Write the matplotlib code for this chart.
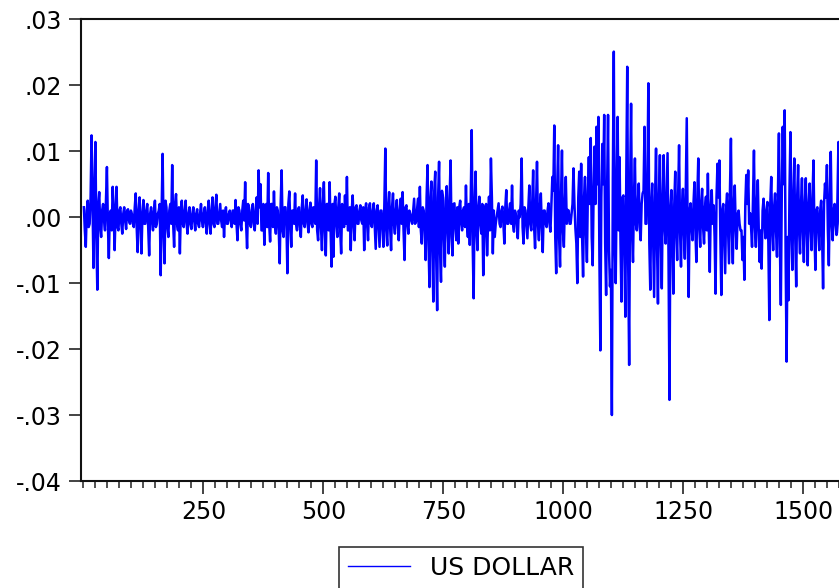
import numpy as np
import matplotlib
matplotlib.use('Agg')
import matplotlib.pyplot as plt
from matplotlib.ticker import MultipleLocator, FixedLocator, FuncFormatter

plt.rcParams['font.family'] = ['DejaVu Sans']

# daily returns, in thousandths.
# segN: peaks/troughs every 4 observations, midN: the band in between (offset by 2)
seg1 = [1.5, -4.5, 2.5, -1, 12.4, -7.7, 11.4, -11, 3.8, -3, 2, -2, 7.6, -6.2, 1,
        4.6, -5, 4.6, -2, 1.5, -2.5, 1.5, -1.8, 1.2, -1, 0.5, -1.5, 3.6, -5.3, 3,
        -5.5, 2.6, -1, 2, -5.8, 1.5, -2, 2.5, -1, 1, -8.8, 9.6, -7, 1.5, -3, 2,
        7.9, -4.5, 3.5, -2, -5.5, 2.5, -1.5, 2.5, -2.5, 1.5, -1.8, 1.5, -2, 1.2,
        -1.5, 2, -1.5, 1.5, -2.5]
mid1 = [-2, 1, -1.5, 3, 2, 4, -3, 2, -1.5, 1, -0.5, 2.5, -1, 0.5, -2, 1, 0.5,
        -1.5, 1, -1, 0.5, -0.5, 1, -0.5, 1, -1, 1.5, -1.5, 1, -1, 0.5, -1, 1,
        -1.5, 0.5, -0.5, 1, -1.5, 0.5, 2, 1, -2, 2.5, -1.5, 1, -1, -1, 2, -1,
        1.5, 1, -1, 1, -1, 0.5, -1, 0.5, -0.5, 0.5, -1, 0.5, -0.5, 0.5, -1, 1]
seg2 = [2.5, -2.5, 3, -1.5, 3.4, -1, 2, -1.5, -3, 1.5, -1, 1, -1.5, 1, 2.6,
        -3.5, 1, -2, 2.5, 5.3, -4.7, 1.5, -1.5, 2, -2, 3, 7.1, 5, -2, -4.2, 2,
        6.7, -3.7, 2, 3.9, -2.5, 1, -7, 7.1, -3, 1.5, -8.5, 3.9, -4.5, 1, 3.6,
        -2, 1.5, -3, 3.3, -1.5, 2.7, -2.3, 2.2, -1.5, 1, 8.6, -3.5, 4.4, -5,
        5.3, -5.8, 2, 5.3, -7.5]
mid2 = [-1, 1, -1, 1.5, -1, 0.5, -0.5, 1, 0.5, -1, 0.5, -0.5, 1, -1, -1, 1.5,
        -1, 1, -0.5, -1, 2, -1, 1, -1, 1, -1, 1.5, -2, 2, 1, -1.5, -1, 2, -1.5,
        -1, 1.5, -2, 2, -2, 1.5, -1, 2, -1, 1, -1, -1, 1, -1.5, 1.5, -1, 1, -1,
        1, -1, 1.5, -1, -2, 1.5, -1.5, 2, -2, 2, -2, -2, 2]
seg3 = [-6, 3.1, -3, 3.6, -5.5, 1, 3.3, 6.1, -2, -5, 3.3, -3.5, 1.8, -1, 1.8,
        -1, -5, 2.1, -3.5, 2.1, -1.5, 2.1, -4.8, 1.8, -4.5, 1, -4.5, 10.4, -4.3,
        3.8, -5, 3.6, -2.5, 2.6, -3.5, 2.8, 3.8, -6.5, 1.8, -2.5, 0.5, -1, 2.8,
        -0.7, 2.8, 4.6, -4, 1, -6.5, 7.9, -10.6, 5.4, -12.8, 6.9, -14.1, 8.4,
        -9.8, 3, -7.5, 4.7, -5.5, 8.6, -5.8, 2.1, -3.5]
mid3 = [2, -1, 1.5, -2, 2, -1.5, -1, -2, 1.5, 1, -1, 1.5, -1, 1, -0.5, 1.5, 1,
        -1, 1.5, -1, 1, -1.5, 1, -1.5, 1, -1.5, 2, -2, 1.5, -1.5, 1.5, -1, 1,
        -1, 1, -1, -2, 1.5, -1, 1, -0.5, 1, -1, 1, -1.5, -2, 1.5, -2, 3, -4, 3,
        -5, 4, -6, 3, -5, 4, -3, 2.5, -2, 3, -3, 2, -1.5, 1.5]
seg4 = [-4, 2.5, -2, 1.5, 4.8, -3, -4.2, 13.2, -12.3, 6.9, -5, 3.1, -2.5, -8.8,
        1.6, -5.8, 3.1, 8.9, -5.5, -3, 0, 2.1, -1.5, 1.6, -4, 4.1, -1, 2.1, 4.8,
        -2.2, 0.5, -3.2, 0, 8.9, -4, 1, -3.2, 4.8, -2, 7.1, -4.7, 8.4, -3.5,
        3.6, -5.3, 1, -1.5, 2.1, -2.2, 6.1, 13.9, -8.5, 10.9, -7.5, 10.1, -4.5,
        6.1, 1.1, -1, 0.5, 7.4, -1.7, -10, 6.9, 8.1]
mid4 = [1.5, -1, 1, -1.5, -1, 2, 3, -4, 2, -2, 1.5, -1, 2, -3, 2, -1, -2, 3, 1,
        -1, 1, -1, 1, -1, 1.5, -1, 1, -1, -1, 1, -1, 1, 2, -1.5, 1.5, -1, 1.5,
        -1, 2, -1.5, 2, -1, 1.5, -1.5, 1, -1, 1, -1, 2, 4, -3, 4, -3, 3, -2, 2,
        -1, 1, -1, 2, 2, -4, 3, -3, -3]
seg5 = [-9, 6.1, -6.8, 9.1, 12, -7.3, 10.7, 13.7, 15.2, -20.2, 11.1, 15.5,
        -11.8, 15.5, -10.5, -30, 25.1, -10, 15.2, 9.1, -12.8, 3.3, -15.1, 22.8,
        -22.4, 17.2, -6.8, 8.9, -2, 5.1, -3.5, 3.6, 13.7, -1, 20.3, -11, 5.1,
        -12.1, 10.4, -13.1, 9.4, -10.8, 9.4, -4, 9.7, -27.7, 4.1, -11.6, 6.9,
        -6.5, 10.9, -7.5, 4.3, -6.3, 15, -12.1, 2.1, -3.5, 5.3, -6.8, 8.9, -4.5,
        4.3, -4, 3.1]
mid5 = [3, -2, 4, 2, -3, 4, 2, 5, -6, 3, 5, -4, 4, -5, -8, 6, -4, 5, -2, -4, 3,
        -5, 6, -7, 5, -2, 3, -1, 2, -1.5, 2, 4, -1, 5, -4, 2, -4, 3, -4, 3, -3,
        3, -1.5, 3, -6, 1.5, -3, 2, -2, 3, -2, 1.5, -2, 4, -3, 1, -1.5, 2, -2,
        3, -1.5, 2, -1.5, 1.5, -2]
seg6 = [6.6, -8.3, 4.1, 1.8, -11.6, 8.1, 8.6, -11.8, 2, -8.5, 3.6, -7, 11.9,
        -7, 4.8, -4.8, 1, -2, -6.5, -9.5, 6.4, 7.1, 0.6, -4.5, 10.1, -4.5, 5.6,
        -6.8, -7.8, 2.8, -3.2, 2.3, -15.6, 6.1, -5, 3.6, -6, 12.7, -13.3, 13.7,
        16.2, -21.9, -12.6, 12.9, -8, 8.9, -10.5, 7.9, -5.5, 5.9, -6.8, 5.9,
        -7.3, 5.1, -5, 8.6, -8, 1.5, -5, 2.5, -10.8, 5.1, 7.9, -7.3, 9.9, -3.5,
        2, -2.7, 11.4, -3, 4]
mid6 = [-2, 1.5, -1, -3, 3, 3, -3, 1, -3, 1.5, -2, 4, -2, 2, -1.5, 0.5, -1, -2,
        -3, 2, 2, -1, -1.5, 3, -1.5, 2, -2, -2, 1, -1, 1, -4, 2, -1.5, 1.5, -2,
        4, -4, 4, 5, -6, -3, 4, -2.5, 3, -3, 3, -2, 2, -2, 2, -2, 2, -1.5, 3,
        -2.5, 1, -1.5, 1, -3, 2, 3, -2, 3, -1, 1, -1, 3, -1, 1.5]
seg_starts = [1, 261, 521, 781, 1041, 1301]
step = 4
x_major = [250, 500, 750, 1000, 1250, 1500]

obs_list, val_list = [], []
for start, pk, md in zip(seg_starts, [seg1, seg2, seg3, seg4, seg5, seg6],
                         [mid1, mid2, mid3, mid4, mid5, mid6]):
    obs_list += [start + step * np.arange(len(pk)), start + step // 2 + step * np.arange(len(md))]
    val_list += [np.array(pk), np.array(md)]
obs = np.concatenate(obs_list)
values = np.concatenate(val_list) / 1000.0
order = np.argsort(obs, kind='stable')
obs, values = obs[order], values[order]

W, H = 839, 588
fig = plt.figure(figsize=(W / 100, H / 100), dpi=100)

xmin, xmax = -5, 1620
px_per_obs = 0.48
left_px, top_px, bottom_px = 81, 19.3, 481
width_px = (xmax - xmin) * px_per_obs
ax = fig.add_axes([left_px / W, (H - bottom_px) / H, width_px / W, (bottom_px - top_px) / H])

ax.plot(obs, values, color='#0000ff', linewidth=1.8, label='US DOLLAR')

ax.set_xlim(xmin, xmax)
ax.set_ylim(-0.04, 0.03)
ax.xaxis.set_major_locator(FixedLocator(x_major))
ax.xaxis.set_minor_locator(MultipleLocator(25))
ax.yaxis.set_major_locator(MultipleLocator(0.01))
ax.yaxis.set_major_formatter(FuncFormatter(lambda v, p: f'{v:.2f}'.replace('0.', '.')))

ax.tick_params(axis='both', which='major', direction='out', length=9, width=1.2,
               labelsize=17, color='#222222', pad=5)
ax.tick_params(axis='x', which='minor', direction='out', length=5, width=1.1, color='#222222')
ax.tick_params(axis='y', which='minor', left=False)

for side in ['left', 'bottom', 'top']:
    ax.spines[side].set_linewidth(1.5)
    ax.spines[side].set_color('#111111')
ax.spines['right'].set_visible(False)

leg = fig.legend(loc='upper center', bbox_to_anchor=(461 / W, 1 - 547 / H),
                 fontsize=18, frameon=True, fancybox=False, edgecolor='black',
                 handlelength=2.5, borderpad=0.35, handletextpad=0.8, borderaxespad=0)
leg.get_frame().set_linewidth(1.2)
for line in leg.get_lines():
    line.set_linewidth(1.0)

fig.savefig('out.png', dpi=100)
